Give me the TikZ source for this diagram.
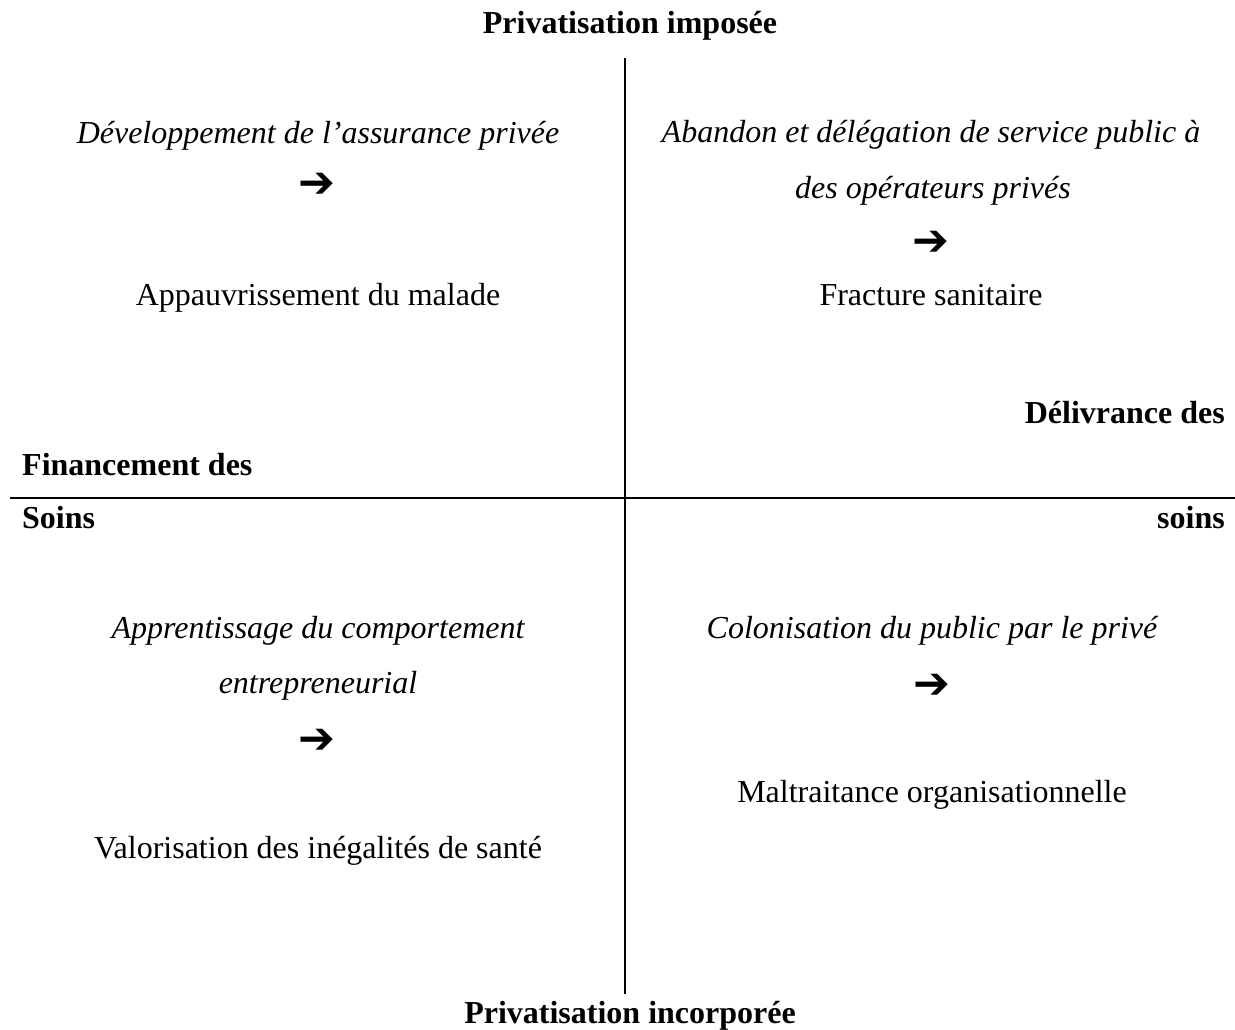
\documentclass[tikz,border=0pt]{standalone}
\usepackage{fontspec}
\setmainfont{Liberation Serif}
\newfontfamily\arrowfont{DejaVu Sans}
\begin{document}
\begin{tikzpicture}[x=1pt,y=-1pt,
  txt/.style={inner sep=0pt,anchor=base,font=\fontsize{32}{38}\selectfont},
  itxt/.style={txt,font=\fontsize{32}{38}\selectfont\itshape},
  btxt/.style={txt,font=\fontsize{32}{38}\selectfont\bfseries},
  arr/.style={inner sep=0pt,anchor=center,font=\fontsize{44}{50}\selectfont\arrowfont},
  axis/.style={line width=2pt}]
\useasboundingbox (0,0) rectangle (1235,1029);
% axes
\coordinate (hl) at (10,498);
\coordinate (hr) at (1235,498);
\coordinate (vt) at (625,58);
\coordinate (vb) at (625,994);
\draw[axis] (hl) -- (hr);
\draw[axis] (vt) -- (vb);
% titles
\node[btxt] (top) at (630,33) {Privatisation imposée};
\node[btxt] (bot) at (630,1023) {Privatisation incorporée};
\node[btxt,anchor=base east] (deliv1) at (1225,423) {Délivrance des};
\node[btxt,anchor=base east] (deliv2) at (1225,528) {soins};
\node[btxt,anchor=base west] (fin1) at (22,475) {Financement des};
\node[btxt,anchor=base west] (fin2) at (22,528) {Soins};
% top-left
\node[itxt] (tl1) at (318,143) {Développement de l’assurance privée};
\node[arr] (tla) at (317,185) {➔};
\node[txt] (tl2) at (318,305) {Appauvrissement du malade};
% top-right
\node[itxt] (tr1) at (931,142) {Abandon et délégation de service public à};
\node[itxt] (tr2) at (933,198) {des opérateurs privés};
\node[arr] (tra) at (931,243) {➔};
\node[txt] (tr3) at (931,305) {Fracture sanitaire};
% bottom-left
\node[itxt] (bl1) at (318,638) {Apprentissage du comportement};
\node[itxt] (bl2) at (318,693) {entrepreneurial};
\node[arr] (bla) at (317,741) {➔};
\node[txt] (bl3) at (318,858) {Valorisation des inégalités de santé};
% bottom-right
\node[itxt] (br1) at (932,638) {Colonisation du public par le privé};
\node[arr] (bra) at (932,686) {➔};
\node[txt] (br2) at (932,802) {Maltraitance organisationnelle};
\end{tikzpicture}
\end{document}
